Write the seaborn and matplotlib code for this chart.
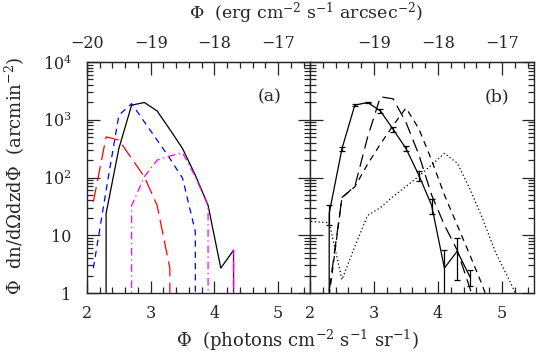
import numpy as np
import pandas as pd
import matplotlib
matplotlib.use("Agg")
import matplotlib.pyplot as plt
import seaborn as sns
from matplotlib.ticker import FixedLocator, LogLocator, NullFormatter, FixedFormatter, MultipleLocator

sns.set_style("ticks")
plt.rcParams['font.family'] = ['DejaVu Serif']
plt.rcParams['mathtext.fontset'] = 'dejavuserif'

# ---------------- data ----------------
# panel (a)
a_black_x = [2.1, 2.3, 2.5, 2.7, 2.9, 3.1, 3.3, 3.5, 3.7, 3.9, 4.1, 4.3, 4.5]
a_black_y = [0, 24, 317, 1790, 1990, 1420, 680, 317, 110, 33, 2.7, 5.5, 0]
a_red_x = [2.1, 2.3, 2.5, 2.7, 2.9, 3.1, 3.3, 3.5]
a_red_y = [38, 505, 445, 214, 103, 33, 2.7, 0]
a_blue_x = [2.1, 2.3, 2.5, 2.7, 2.9, 3.1, 3.3, 3.5, 3.7, 3.9]
a_blue_y = [2.7, 60, 1200, 1900, 920, 445, 214, 97, 11.6, 0]
a_mag_x = [2.5, 2.7, 2.9, 3.1, 3.3, 3.5, 3.7, 3.9, 4.1, 4.3, 4.5]
a_mag_y = [0, 32.6, 103, 200, 235, 268, 103, 32.6, 0, 5.5, 0]

# panel (b)
b_obs_x = [2.1, 2.3, 2.5, 2.7, 2.9, 3.1, 3.3, 3.5, 3.7, 3.9, 4.1, 4.3, 4.5]
b_obs_y = [0, 24, 317, 1790, 1990, 1420, 680, 317, 110, 33, 2.7, 5.3, 1.9]
b_obs_err = [0, 9, 25, 60, 70, 90, 60, 35, 22, 10, 2.8, 3.6, 0.6]
b_long_x = [2.3, 2.5, 2.7, 2.9, 3.1, 3.3, 3.5, 3.7, 3.9, 4.1, 4.3, 4.5, 4.7]
b_long_y = [1.1, 45, 70, 500, 2500, 2300, 900, 250, 50, 15, 5.5, 1.2, 0.2]
b_short_x = [2.3, 2.5, 2.7, 2.9, 3.1, 3.3, 3.5, 3.7, 3.9, 4.1, 4.3, 4.5, 4.7, 4.9]
b_short_y = [0.9, 45, 69, 170, 380, 800, 1600, 700, 200, 50, 15, 4.5, 1.3, 0.3]
b_dot_x = [1.9, 2.1, 2.3, 2.5, 2.7, 2.9, 3.1, 3.3, 3.5, 3.7, 3.9, 4.1, 4.3, 4.5, 4.7, 4.9, 5.1, 5.3]
b_dot_y = [18, 17, 16.5, 1.7, 6.4, 22, 30, 47, 70, 105, 165, 262, 178, 63, 19, 5, 1.8, 0.6]

top_ticks_a = [-20, -19, -18, -17]
top_ticks_b = [-19, -18, -17]
bottom_ticks = [2, 3, 4, 5]
y_ticks = [1, 10, 100, 1000, 10000]
y_labels = ['1', '10', r'$10^2$', r'$10^3$', r'$10^4$']
OFFSET = 22.0

# ---------------- figure ----------------
W, H = 537, 352
fig = plt.figure(figsize=(W / 100, H / 100), dpi=100)
axa = fig.add_axes([87 / W, (H - 293) / H, 223 / W, 231 / H])
axb = fig.add_axes([310 / W, (H - 293) / H, 224 / W, 231 / H])

def line(ax, x, y, color, ls, lw=0.9):
    sns.lineplot(x=x, y=y, ax=ax, color=color, linestyle=ls, lw=lw,
                 estimator=None, sort=False, legend=False)

line(axa, a_black_x, a_black_y, 'black', '-')
line(axa, a_red_x, a_red_y, 'red', (0, (12, 5)))
line(axa, a_blue_x, a_blue_y, 'blue', (0, (5, 4)))
line(axa, a_mag_x, a_mag_y, 'magenta', (0, (6, 3, 1, 3)))

line(axb, b_obs_x, b_obs_y, 'black', '-')
axb.errorbar(b_obs_x[1:], b_obs_y[1:], yerr=b_obs_err[1:], fmt='none',
             ecolor='black', elinewidth=0.9, capsize=2.5, capthick=0.9)
line(axb, b_long_x, b_long_y, 'black', (0, (10, 5)))
line(axb, b_short_x, b_short_y, 'black', (0, (5, 4)))
line(axb, b_dot_x, b_dot_y, 'black', (0, (1, 2)))

for ax in (axa, axb):
    ax.set_yscale('log')
    ax.set_xlim(2, 5.5)
    ax.set_ylim(1, 1e4)
    ax.set_xlabel('')
    ax.set_ylabel('')
    ax.xaxis.set_major_locator(FixedLocator(bottom_ticks))
    ax.xaxis.set_minor_locator(MultipleLocator(0.2))
    ax.yaxis.set_major_locator(FixedLocator(y_ticks))
    ax.yaxis.set_minor_locator(LogLocator(base=10, subs=np.arange(2, 10)))
    ax.yaxis.set_minor_formatter(NullFormatter())
    ax.tick_params(which='major', direction='in', length=9, width=0.9,
                   left=True, right=True, bottom=True, top=False, labelsize=11.5)
    ax.tick_params(which='minor', direction='in', length=4.5, width=0.9,
                   left=True, right=True, bottom=True, top=False)
    ax.tick_params(axis='x', pad=9)
    for s in ax.spines.values():
        s.set_linewidth(1.0)
        s.set_visible(True)
    sec = ax.secondary_xaxis('top', functions=(lambda v: v - OFFSET, lambda v: v + OFFSET))
    sec.xaxis.set_major_locator(FixedLocator(top_ticks_a if ax is axa else top_ticks_b))
    sec.xaxis.set_minor_locator(MultipleLocator(0.2))
    sec.tick_params(which='major', direction='in', length=9, width=0.9, labelsize=11.5, pad=7)
    sec.tick_params(which='minor', direction='in', length=4.5, width=0.9)
    sec.xaxis.set_major_formatter(matplotlib.ticker.FuncFormatter(lambda v, p: '\u2212%d' % abs(round(v))))

axa.yaxis.set_major_formatter(FixedFormatter(y_labels))
axa.tick_params(axis='y', pad=11)
axb.tick_params(axis='y', labelleft=False)

axa.text(0.82, 0.85, '(a)', transform=axa.transAxes, ha='center', va='center', fontsize=12.5)
axb.text(0.835, 0.85, '(b)', transform=axb.transAxes, ha='center', va='center', fontsize=12.5)

fig.text(306 / W, 1 - 13 / H, '\u03a6  (erg cm$^{-2}$ s$^{-1}$ arcsec$^{-2}$)', ha='center', va='center', fontsize=12.5)
fig.text(297 / W, 1 - 340 / H, '\u03a6  (photons cm$^{-2}$ s$^{-1}$ sr$^{-1}$)', ha='center', va='center', fontsize=13)
fig.text(15 / W, 1 - 176 / H, '\u03a6  dn/d\u03a9dzd\u03a6  (arcmin$^{-2}$)', ha='center', va='center',
         rotation=90, fontsize=13)

fig.savefig('out.png', dpi=100)
